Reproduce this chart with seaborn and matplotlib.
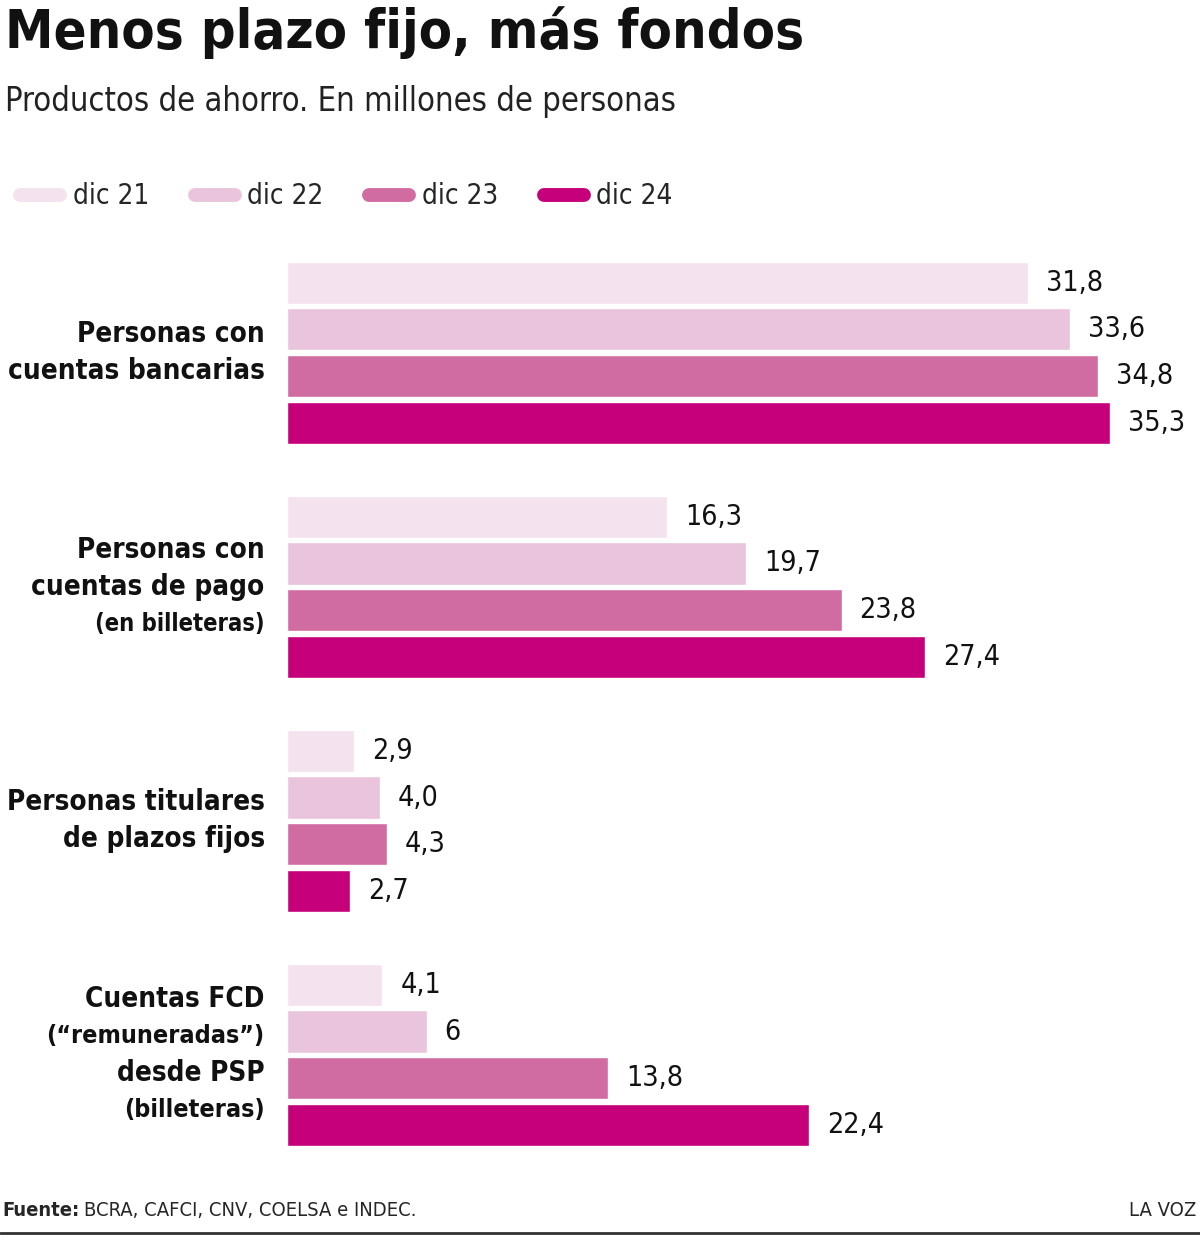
import pandas as pd
import matplotlib.pyplot as plt
import seaborn as sns
from matplotlib.lines import Line2D

# datos: productos de ahorro, en millones de personas
categorias = ['Personas con cuentas bancarias', 'Personas con cuentas de pago',
              'Personas titulares de plazos fijos', 'Cuentas FCD desde PSP']
series = ['dic 21', 'dic 22', 'dic 23', 'dic 24']
dic21 = [31.8, 16.3, 2.9, 4.1]
dic22 = [33.6, 19.7, 4.0, 6.0]
dic23 = [34.8, 23.8, 4.3, 13.8]
dic24 = [35.3, 27.4, 2.7, 22.4]
etiquetas = [['31,8', '16,3', '2,9', '4,1'],
             ['33,6', '19,7', '4,0', '6'],
             ['34,8', '23,8', '4,3', '13,8'],
             ['35,3', '27,4', '2,7', '22,4']]
colores = ['#f4e2ee', '#e9c4dc', '#d16ca2', '#c6007a']

rows = []
for s, vals in zip(series, [dic21, dic22, dic23, dic24]):
    for c, v in zip(categorias, vals):
        rows.append({'cat': c, 'serie': s, 'valor': v})
df = pd.DataFrame(rows)

sns.set_style('white')
plt.rcParams['font.family'] = ['DejaVu Sans']
plt.rcParams['font.stretch'] = 'condensed'

fig = plt.figure(figsize=(12, 12.35), dpi=100)
ax = fig.add_axes([0.239, 0.0607, 0.761, 0.737])
sns.barplot(data=df, y='cat', x='valor', hue='serie', palette=colores, orient='h',
            width=0.8, gap=0.1, saturation=1, legend=False, ax=ax)

for cont, labs in zip(ax.containers, etiquetas):
    ax.bar_label(cont, labels=labs, padding=13, fontsize=20.5, color='#111111')

ax.set_xlim(0, 39.18)
ax.set_ylim(3.449, -0.44)
ax.set_xlabel('')
ax.set_ylabel('')
ax.set_xticks([])
ax.set_yticks([])
sns.despine(ax=ax, left=True, bottom=True)

# etiquetas de categorias
textos = [
    [('Personas con', 20), ('cuentas bancarias', 20)],
    [('Personas con', 20), ('cuentas de pago', 20), ('(en billeteras)', 17)],
    [('Personas titulares', 20), ('de plazos fijos', 20)],
    [('Cuentas FCD', 20), ('(“remuneradas”)', 18), ('desde PSP', 20), ('(billeteras)', 18)],
]
for i, lineas in enumerate(textos):
    n = len(lineas)
    for j, (t, fs) in enumerate(lineas):
        off = (j - (n - 1) / 2) * 0.158
        ax.text(-0.95, i + off, t, ha='right', va='center', fontsize=fs,
                fontweight='bold', color='#111111')

# titulo y subtitulo
fig.text(0.004, 0.995, 'Menos plazo fijo, más fondos', fontsize=39, fontweight='bold',
         va='top', ha='left', color='#111111')
fig.text(0.004, 0.918, 'Productos de ahorro. En millones de personas', fontsize=23.5,
         va='center', ha='left', color='#222222')

# leyenda
handles = [Line2D([0], [0], color=c, lw=10, solid_capstyle='round') for c in colores]
fig.legend(handles, series, loc='center left', bbox_to_anchor=(0.0167, 0.841), ncol=4,
           frameon=False, fontsize=20, handlelength=1.44, handletextpad=0.45,
           columnspacing=1.65, borderaxespad=0, borderpad=0)

# fuente
fig.text(0.002, 0.02, 'Fuente:', fontsize=14.5, fontweight='bold', va='center', ha='left')
fig.text(0.07, 0.02, 'BCRA, CAFCI, CNV, COELSA e INDEC.', fontsize=14.5, va='center', ha='left')
fig.text(0.997, 0.02, 'LA VOZ', fontsize=14.5, va='center', ha='right')
fig.add_artist(Line2D([0, 1], [0.002, 0.002], color='#333333', lw=2))

fig.savefig('out.png', dpi=100)
